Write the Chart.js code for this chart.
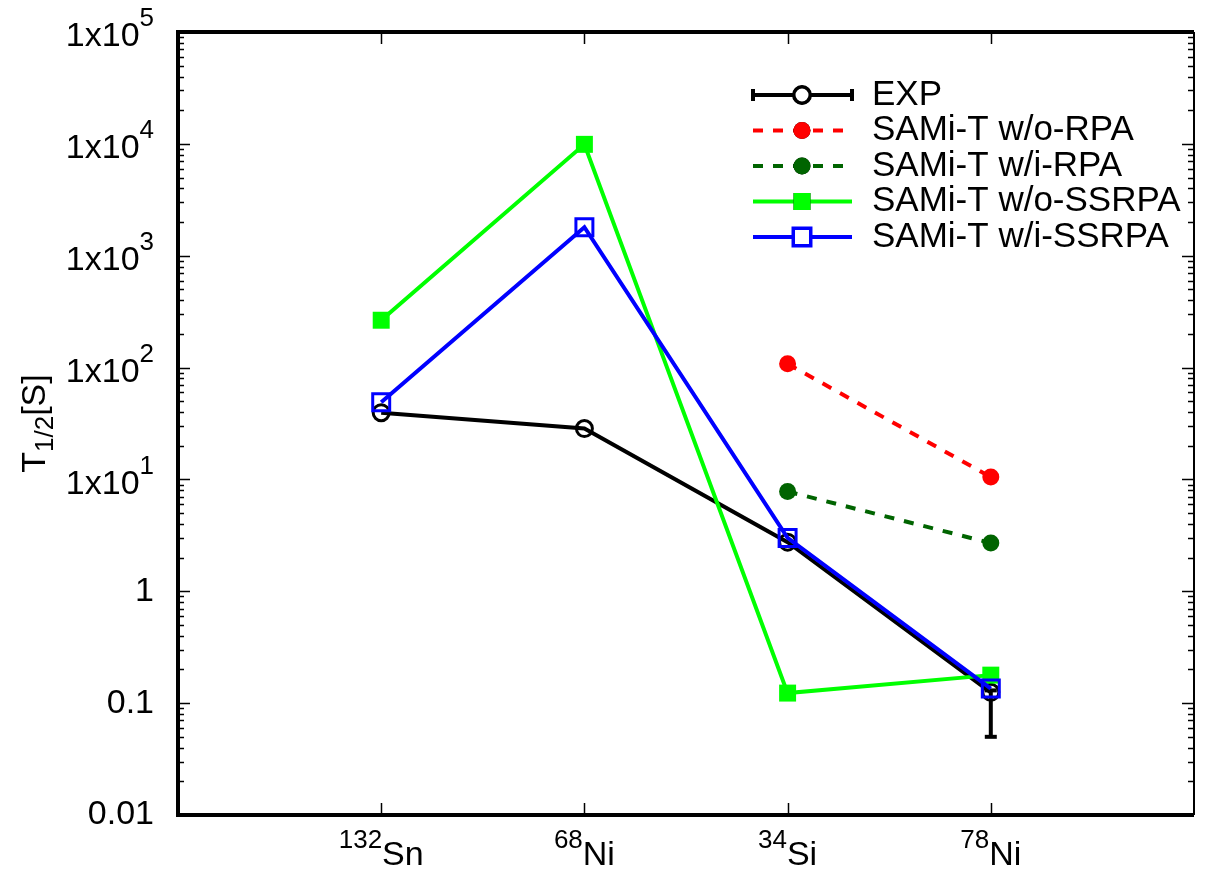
<!DOCTYPE html>
<html><head><meta charset="utf-8">
<script src="https://cdn.jsdelivr.net/npm/chart.js@4"></script>
<style>html,body{margin:0;padding:0;background:#fff;}canvas{display:block;}</style>
</head><body>
<canvas id="c" width="1209" height="873"></canvas>
<script>
// ---- data ----
const nuclei = ['Sn', 'Ni', 'Si', 'Ni'];
const massNumbers = ['132', '68', '34', '78'];
const xPositions = [1, 2, 3, 4];
const expValues = [39.5, 28.5, 2.75, 0.125];
const expErrLow = [null, null, null, 0.05];
const expErrHigh = [null, null, null, 0.13];
const woRPA = [null, null, 108, 10.5];
const wiRPA = [null, null, 7.8, 2.7];
const woSSRPA = [265, 9900, 0.123, 0.178];
const wiSSRPA = [49, 1800, 3.0, 0.135];
const yTickValues = [1e5, 1e4, 1e3, 1e2, 10, 1, 0.1, 0.01];
const yTickBase = ['1x10', '1x10', '1x10', '1x10', '1x10', '1', '0.1', '0.01'];
const yTickExp = ['5', '4', '3', '2', '1', '', '', ''];
const seriesNames = ['EXP', 'SAMi-T w/o-RPA', 'SAMi-T w/i-RPA', 'SAMi-T w/o-SSRPA', 'SAMi-T w/i-SSRPA'];

const FONT = '"Liberation Sans", Arial, Helvetica, sans-serif';
const pts = arr => arr.map((v, i) => ({x: xPositions[i], y: v}));

const datasets = [
  {label: seriesNames[0], data: pts(expValues), borderColor: '#000', borderWidth: 4,
   pointStyle: 'circle', pointRadius: 8, pointBorderWidth: 3, pointBackgroundColor: 'rgba(0,0,0,0)', pointBorderColor: '#000', order: 4},
  {label: seriesNames[1], data: pts(woRPA), borderColor: '#ff0000', borderWidth: 4, borderDash: [10, 10],
   pointStyle: 'circle', pointRadius: 8.5, pointBorderWidth: 0, pointBackgroundColor: '#ff0000', order: 3},
  {label: seriesNames[2], data: pts(wiRPA), borderColor: '#006400', borderWidth: 4, borderDash: [10, 10],
   pointStyle: 'circle', pointRadius: 8.5, pointBorderWidth: 0, pointBackgroundColor: '#006400', order: 2},
  {label: seriesNames[3], data: pts(woSSRPA), borderColor: '#00ff00', borderWidth: 4,
   pointStyle: 'rect', pointRadius: 12, pointBorderWidth: 0, pointBackgroundColor: '#00ff00', order: 1},
  {label: seriesNames[4], data: pts(wiSSRPA), borderColor: '#0000ff', borderWidth: 4,
   pointStyle: 'rect', pointRadius: 12, pointBorderWidth: 3, pointBackgroundColor: 'rgba(0,0,0,0)', pointBorderColor: '#0000ff', order: 0}
];

function supWidths(ctx, base, sup, bf, sf) {
  ctx.font = bf; const wb = ctx.measureText(base).width;
  ctx.font = sf; const ws = sup ? ctx.measureText(sup).width : 0;
  return [wb, ws];
}

const decor = {
  id: 'decor',
  beforeDatasetsDraw(chart) {
    const ctx = chart.ctx, xs = chart.scales.x, ys = chart.scales.y;
    ctx.save();
    ctx.strokeStyle = '#000'; ctx.lineWidth = 4;
    expValues.forEach((v, i) => {
      if (expErrLow[i] == null) return;
      const px = xs.getPixelForValue(xPositions[i]);
      const lo = ys.getPixelForValue(expErrLow[i]), hi = ys.getPixelForValue(expErrHigh[i]);
      ctx.beginPath(); ctx.moveTo(px, lo); ctx.lineTo(px, hi); ctx.stroke();
      ctx.beginPath(); ctx.moveTo(px - 6, lo); ctx.lineTo(px + 6, lo); ctx.stroke();
      ctx.beginPath(); ctx.moveTo(px - 6, hi); ctx.lineTo(px + 6, hi); ctx.stroke();
    });
    ctx.restore();
  },
  afterDraw(chart) {
    const ctx = chart.ctx, ca = chart.chartArea, xs = chart.scales.x, ys = chart.scales.y;
    ctx.save();
    // ticks
    ctx.strokeStyle = '#000'; ctx.lineWidth = 1.5;
    for (let e = -2; e <= 5; e++) {
      for (let m = 1; m <= 9; m++) {
        const v = m * Math.pow(10, e);
        if (v > 1e5 * 1.0001) continue;
        const py = Math.round(ys.getPixelForValue(v)) + 0.5;
        const len = m === 1 ? 12 : 6;
        ctx.beginPath(); ctx.moveTo(ca.left, py); ctx.lineTo(ca.left + len, py); ctx.stroke();
        ctx.beginPath(); ctx.moveTo(ca.right, py); ctx.lineTo(ca.right - len, py); ctx.stroke();
      }
    }
    xPositions.forEach(xv => {
      const px = Math.round(xs.getPixelForValue(xv)) + 0.5;
      ctx.beginPath(); ctx.moveTo(px, ca.bottom); ctx.lineTo(px, ca.bottom - 12); ctx.stroke();
      ctx.beginPath(); ctx.moveTo(px, ca.top); ctx.lineTo(px, ca.top + 12); ctx.stroke();
    });
    // frame
    ctx.lineWidth = 4;
    ctx.beginPath(); ctx.moveTo(ca.left, ca.bottom + 2); ctx.lineTo(ca.left, ca.top - 2); ctx.stroke();
    ctx.beginPath(); ctx.moveTo(ca.left - 2, ca.top); ctx.lineTo(ca.right, ca.top); ctx.stroke();
    ctx.beginPath(); ctx.moveTo(ca.left - 2, ca.bottom); ctx.lineTo(ca.right, ca.bottom); ctx.stroke();
    ctx.lineWidth = 2;
    ctx.beginPath(); ctx.moveTo(ca.right, ca.top); ctx.lineTo(ca.right, ca.bottom); ctx.stroke();

    // y tick labels
    ctx.fillStyle = '#000'; ctx.textBaseline = 'middle';
    const bf = '34px ' + FONT, sf = '26px ' + FONT;
    yTickValues.forEach((v, i) => {
      const py = ys.getPixelForValue(v);
      const [wb, ws] = supWidths(ctx, yTickBase[i], yTickExp[i], bf, sf);
      const right = ca.left - 24;
      ctx.textAlign = 'left';
      const dy = yTickExp[i] ? 5 : 0;
      ctx.font = bf; ctx.fillText(yTickBase[i], right - ws - wb, py + dy);
      if (yTickExp[i]) { ctx.font = sf; ctx.fillText(yTickExp[i], right - ws, py + dy - 18); }
    });
    // x tick labels
    ctx.textBaseline = 'alphabetic';
    xPositions.forEach((xv, i) => {
      const px = xs.getPixelForValue(xv);
      const [wb, ws] = supWidths(ctx, nuclei[i], massNumbers[i], bf, sf);
      const start = px - (wb + ws) / 2;
      const base = ca.bottom + 50;
      ctx.textAlign = 'left';
      ctx.font = sf; ctx.fillText(massNumbers[i], start, base - 17);
      ctx.font = bf; ctx.fillText(nuclei[i], start + ws, base);
    });
    // y title
    ctx.save();
    ctx.translate(45, (ca.top + ca.bottom) / 2);
    ctx.rotate(-Math.PI / 2);
    ctx.textBaseline = 'alphabetic'; ctx.textAlign = 'left';
    const t1 = 'T', t2 = '1/2', t3 = '[S]';
    ctx.font = bf; const w1 = ctx.measureText(t1).width, w3 = ctx.measureText(t3).width;
    ctx.font = sf; const w2 = ctx.measureText(t2).width;
    let sx = -(w1 + w2 + w3) / 2;
    ctx.font = bf; ctx.fillText(t1, sx, 0); sx += w1;
    ctx.font = sf; ctx.fillText(t2, sx, 8); sx += w2;
    ctx.font = bf; ctx.fillText(t3, sx, 0);
    ctx.restore();

    // legend
    const lx0 = 753, lx1 = 852, mx = 802, tx = 872;
    const ly = [95, 130.5, 166, 201.5, 237];
    datasets.forEach((d, i) => {
      const y = ly[i];
      ctx.save();
      ctx.strokeStyle = d.borderColor; ctx.lineWidth = 4;
      ctx.setLineDash(d.borderDash || []);
      ctx.beginPath(); ctx.moveTo(lx0, y); ctx.lineTo(lx1, y); ctx.stroke();
      ctx.setLineDash([]);
      if (i === 0) {
        ctx.beginPath(); ctx.moveTo(lx0, y - 6); ctx.lineTo(lx0, y + 6); ctx.stroke();
        ctx.beginPath(); ctx.moveTo(lx1, y - 6); ctx.lineTo(lx1, y + 6); ctx.stroke();
      }
      Chart.helpers.drawPoint(ctx, {pointStyle: d.pointStyle, radius: d.pointRadius, borderWidth: d.pointBorderWidth, rotation: 0}, mx, y);
      if (d.pointBackgroundColor !== 'rgba(0,0,0,0)') { ctx.fillStyle = d.pointBackgroundColor; ctx.fill(); }
      else { ctx.fillStyle = '#fff'; ctx.fill(); }
      if (d.pointBorderWidth) { ctx.strokeStyle = d.pointBorderColor; ctx.lineWidth = d.pointBorderWidth; ctx.stroke(); }
      ctx.restore();
      ctx.fillStyle = '#000'; ctx.font = '35px ' + FONT; ctx.textAlign = 'left'; ctx.textBaseline = 'middle';
      ctx.fillText(d.label, tx, y);
    });
    ctx.restore();
  }
};

new Chart(document.getElementById('c'), {
  type: 'line',
  data: {datasets},
  options: {
    responsive: false, animation: false,
    layout: {padding: {left: 178, right: 3, top: 32, bottom: 58}},
    plugins: {legend: {display: false}, tooltip: {enabled: false}},
    scales: {
      x: {type: 'linear', min: 0, max: 5, display: false},
      y: {type: 'logarithmic', min: 0.01, max: 1e5, display: false}
    }
  },
  plugins: [decor]
});
</script>
</body></html>
